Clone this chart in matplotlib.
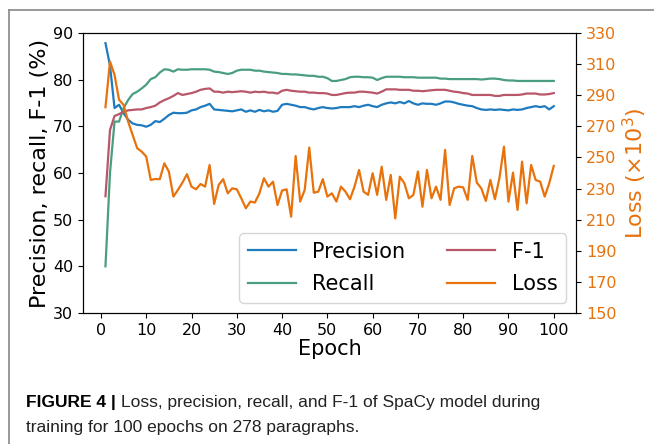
import matplotlib
matplotlib.use("Agg")
import matplotlib.pyplot as plt
from matplotlib.lines import Line2D

epochs = list(range(1, 101))

precision = [
    87.8, 83.0, 73.9, 74.6, 72.8, 71.4, 70.6, 70.3, 70.2, 69.9,
    70.3, 71.1, 70.9, 71.6, 72.4, 72.9, 72.8, 72.8, 72.9, 73.4,
    73.6, 74.1, 74.4, 74.8, 73.6, 73.5, 73.4, 73.3, 73.2, 73.4,
    73.6, 73.1, 73.4, 73.1, 73.5, 73.2, 73.4, 73.1, 73.3, 74.6,
    74.8, 74.6, 74.4, 74.1, 74.1, 73.8, 73.6, 73.9, 74.1, 73.9,
    73.8, 73.9, 74.1, 74.1, 74.1, 74.3, 74.1, 74.4, 74.6, 74.3,
    74.1, 74.6, 74.9, 75.1, 74.9, 75.2, 74.9, 75.4, 74.9, 74.6,
    74.9, 74.8, 74.8, 74.6, 74.9, 75.3, 75.3, 75.1, 74.8, 74.6,
    74.4, 74.3, 73.9, 73.6, 73.5, 73.6, 73.5, 73.6, 73.5, 73.4,
    73.6, 73.5, 73.6, 73.9, 74.1, 74.3, 74.1, 74.3, 73.6, 74.3,
]

recall = [
    40.0, 60.0, 71.0, 71.0, 73.9, 75.6, 76.9, 77.4, 78.1, 78.9,
    80.1, 80.5, 81.5, 82.2, 82.1, 81.7, 82.2, 82.1, 82.1, 82.2,
    82.2, 82.2, 82.2, 82.1, 81.7, 81.6, 81.4, 81.2, 81.4, 81.9,
    82.1, 82.1, 82.1, 81.9, 81.9, 81.7, 81.6, 81.5, 81.4, 81.2,
    81.2, 81.1, 81.1, 81.0, 80.9, 80.8, 80.8, 80.6, 80.6, 80.3,
    79.7, 79.7, 79.9, 80.1, 80.5, 80.6, 80.6, 80.5, 80.5, 80.4,
    79.9, 80.3, 80.6, 80.6, 80.6, 80.6, 80.5, 80.5, 80.5, 80.4,
    80.4, 80.4, 80.4, 80.4, 80.2, 80.2, 80.1, 80.1, 80.1, 80.1,
    80.1, 80.1, 80.1, 80.0, 80.1, 80.2, 80.2, 80.1, 79.9, 79.8,
    79.8, 79.7, 79.7, 79.7, 79.7, 79.7, 79.7, 79.7, 79.7, 79.7,
]

f1 = [
    55.0, 69.2, 72.2, 72.6, 73.1, 73.4, 73.5, 73.6, 73.6, 73.9,
    74.1, 74.4, 75.1, 75.6, 76.0, 76.5, 77.1, 76.7, 76.9, 77.1,
    77.4, 77.8, 78.0, 78.1, 77.4, 77.4, 77.2, 77.4, 77.3, 77.4,
    77.5, 77.4, 77.2, 77.4, 77.3, 77.4, 77.2, 77.2, 77.0, 77.6,
    77.8, 77.6, 77.5, 77.4, 77.4, 77.2, 77.2, 77.1, 77.1, 77.0,
    76.7, 76.7, 76.9, 77.1, 77.2, 77.2, 77.4, 77.4, 77.3, 77.2,
    77.0, 77.4, 77.9, 77.9, 77.9, 77.8, 77.8, 77.8, 77.6, 77.6,
    77.5, 77.6, 77.7, 77.8, 77.8, 77.8, 77.6, 77.4, 77.3, 77.1,
    77.0, 76.7, 76.7, 76.7, 76.7, 76.7, 76.5, 76.5, 76.7, 76.7,
    76.7, 76.7, 76.8, 77.0, 77.0, 77.0, 76.8, 76.8, 76.9, 77.1,
]

loss = [
    282.2, 311.6, 303.0, 287.0, 283.7, 273.0, 264.4, 255.9, 253.7, 250.5,
    235.5, 236.1, 236.0, 246.2, 240.9, 224.8, 229.1, 233.8, 239.2, 231.2,
    229.5, 232.9, 231.2, 245.1, 220.1, 232.3, 236.0, 226.9, 230.1, 229.5,
    223.7, 217.3, 221.6, 221.0, 226.9, 236.6, 231.2, 234.4, 219.4, 228.7,
    229.5, 211.9, 250.9, 221.6, 229.1, 256.3, 227.3, 228.0, 236.0, 224.8,
    226.9, 221.6, 231.2, 228.0, 223.1, 231.2, 241.9, 228.0, 225.9, 239.8,
    225.9, 244.0, 222.7, 238.7, 210.8, 237.6, 233.4, 223.7, 225.9, 240.9,
    218.3, 241.9, 223.7, 231.2, 222.7, 254.8, 219.4, 230.1, 231.2, 230.7,
    222.7, 250.9, 233.8, 230.1, 222.0, 235.5, 223.1, 236.6, 256.9, 221.6,
    240.2, 216.2, 247.3, 220.5, 245.1, 235.5, 234.4, 224.8, 233.4, 244.5,
]

c_prec = "#1f7bbf"
c_rec = "#4a9e80"
c_f1 = "#b8576a"
c_loss = "#e8720c"

fig = plt.figure(figsize=(6.54, 4.44), dpi=100)
ax = fig.add_axes([0.127, 0.295, 0.754, 0.631])
ax2 = ax.twinx()

l1, = ax.plot(epochs, precision, color=c_prec, lw=1.6, label="Precision")
l2, = ax.plot(epochs, recall, color=c_rec, lw=1.6, label="Recall")
l3, = ax.plot(epochs, f1, color=c_f1, lw=1.6, label="F-1")
l4, = ax2.plot(epochs, loss, color=c_loss, lw=1.6, label="Loss")

ax.set_ylim(30, 90)
ax.set_yticks(range(30, 91, 10))
ax2.set_ylim(150, 330)
ax2.set_yticks(range(150, 331, 20))
ax.set_xticks(range(0, 101, 10))

ax.tick_params(labelsize=11.5)
ax2.tick_params(labelsize=11.5, labelcolor=c_loss)
ax.set_xlabel("Epoch", fontsize=15, labelpad=1)
ax.set_ylabel("Precision, recall, F-1 (%)", fontsize=16, labelpad=2)
ax2.set_ylabel(r"Loss ($\times10^3$)", fontsize=16, color=c_loss, labelpad=3)

ax.legend([l1, l2, l3, l4], ["Precision", "Recall", "F-1", "Loss"],
          loc="lower right", ncol=2, fontsize=15, columnspacing=2.0,
          handlelength=2.3, borderaxespad=0.5, labelspacing=0.6)

# page frame lines
fig.add_artist(Line2D([9 / 654, 1], [1 - 10 / 444, 1 - 10 / 444], color="#888888", lw=1.2))
fig.add_artist(Line2D([9 / 654, 9 / 654], [0, 1 - 10 / 444], color="#888888", lw=1.2))

cap_size = 12.5
head = fig.text(26 / 654, 1 - 407 / 444, "FIGURE 4 |", fontsize=cap_size, fontweight="bold",
                family="Liberation Sans", va="baseline")
fig.canvas.draw()
bb = head.get_window_extent()
fig.text((bb.x1 + 5) / 654, 1 - 407 / 444,
         "Loss, precision, recall, and F-1 of SpaCy model during",
         fontsize=cap_size, family="Liberation Sans", va="baseline", color="#222222")
fig.text(26 / 654, 1 - 432 / 444, "training for 100 epochs on 278 paragraphs.",
         fontsize=cap_size, family="Liberation Sans", va="baseline", color="#222222")

fig.savefig("out.png", dpi=100)
